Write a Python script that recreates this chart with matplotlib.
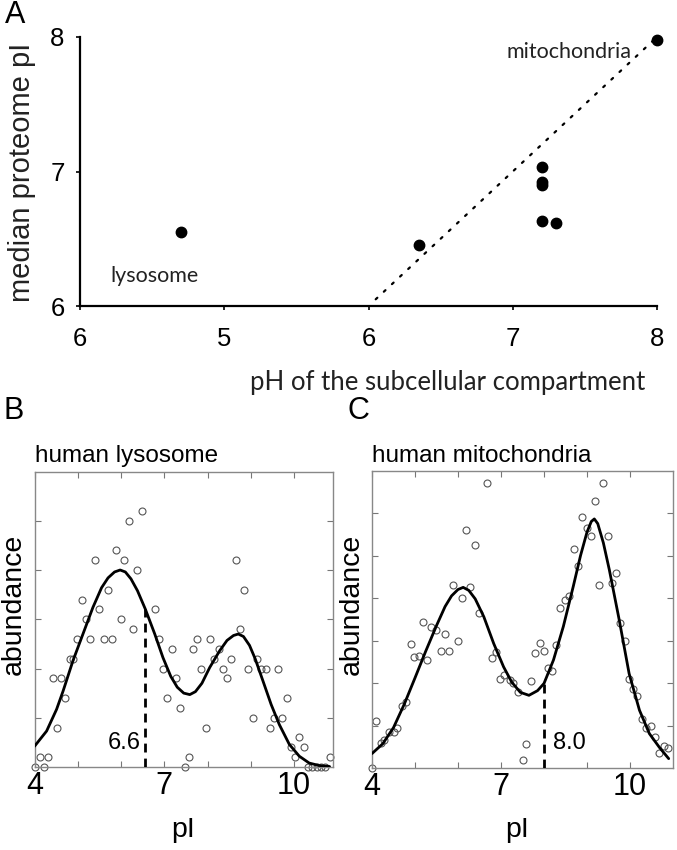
import matplotlib
matplotlib.use("Agg")
import matplotlib.pyplot as plt

W, H = 677, 850

# ---------------- Panel A data ----------------
ph_compartment = [4.7, 6.35, 7.2, 7.2, 7.2, 7.2, 7.3, 8.0]
median_pi = [6.55, 6.45, 7.03, 6.92, 6.90, 6.63, 6.62, 7.98]
fit_x = [6.05, 8.0]
fit_y = [6.05, 8.0]
a_xticks = [4, 5, 6, 7, 8]
a_xticklabels = ["6", "5", "6", "7", "8"]
a_yticks = [6, 7, 8]
a_yticklabels = ["6", "7", "8"]

# ---------------- Panel B data (human lysosome) ----------------
lyso_x = [4.02, 4.21, 4.12, 4.31, 4.42, 4.61, 4.52, 4.70, 4.81, 4.90, 4.99, 5.09, 5.20,
          5.29, 5.39, 5.49, 5.60, 5.69, 5.79, 5.88, 5.99, 6.08, 6.18, 6.28, 6.38, 6.48,
          6.78, 6.88, 6.98, 7.06, 7.18, 7.27, 7.36, 7.47, 7.57, 7.66, 7.75, 7.86, 7.96,
          8.05, 8.15, 8.26, 8.35, 8.44, 8.55, 8.65, 8.75, 8.85, 8.94, 9.05, 9.15, 9.24,
          9.34, 9.45, 9.54, 9.63, 9.73, 9.84, 9.93, 10.02, 10.12, 10.22, 10.33, 10.42,
          10.52, 10.62, 10.71, 10.82]
lyso_y = [0.0, 0.0, 0.2, 0.2, 1.8, 1.8, 0.8, 1.4, 2.2, 2.2, 2.6, 3.4, 3.0,
          2.6, 4.2, 3.2, 2.6, 3.6, 2.6, 4.4, 3.0, 4.2, 5.0, 2.8, 4.0, 5.2,
          3.2, 2.6, 2.0, 1.4, 2.4, 1.8, 1.2, 0.0, 0.2, 2.4, 2.6, 2.0, 0.8,
          2.6, 2.2, 2.4, 2.0, 1.8, 2.2, 4.2, 2.8, 3.6, 2.0, 1.0, 2.2, 2.0,
          2.0, 0.8, 1.0, 2.0, 1.0, 1.4, 0.4, 0.2, 0.6, 0.4, 0.0, 0.0,
          0.0, 0.0, 0.0, 0.2]
lyso_fit_x = [4.0, 4.28, 4.51, 4.66, 4.89, 5.12, 5.35, 5.55, 5.70, 5.85, 5.98, 6.10,
              6.23, 6.38, 6.56, 6.78, 6.97, 7.15, 7.30, 7.45, 7.59, 7.72, 7.87, 8.05,
              8.28, 8.45, 8.60, 8.71, 8.83, 8.97, 9.10, 9.28, 9.47, 9.66, 9.89, 10.12,
              10.35, 10.58, 10.82]
lyso_fit_y = [0.42, 0.73, 1.17, 1.54, 2.16, 2.70, 3.24, 3.64, 3.84, 3.96, 4.00, 3.96,
              3.82, 3.58, 3.21, 2.70, 2.22, 1.84, 1.62, 1.50, 1.47, 1.53, 1.70, 2.02,
              2.36, 2.57, 2.67, 2.70, 2.65, 2.47, 2.20, 1.75, 1.27, 0.86, 0.46, 0.22,
              0.08, 0.03, 0.01]
lyso_median = 6.56
lyso_median_top = 3.21
lyso_label = "6.6"

# ---------------- Panel C data (human mitochondria) ----------------
mito_x = [4.0, 4.1, 4.2, 4.29, 4.4, 4.5, 4.58, 4.69, 4.8, 4.9, 4.98, 5.09, 5.19, 5.29,
          5.38, 5.48, 5.6, 5.7, 5.79, 5.89, 6.0, 6.09, 6.19, 6.28, 6.39, 6.49, 6.68,
          6.79, 6.89, 6.98, 7.08, 7.2, 7.29, 7.39, 7.5, 7.58, 7.69, 7.78, 7.9, 7.99,
          8.09, 8.18, 8.29, 8.38, 8.49, 8.58, 8.69, 8.79, 8.88, 8.99, 9.09, 9.19, 9.28,
          9.38, 9.48, 9.58, 9.68, 9.77, 9.88, 9.98, 10.08, 10.17, 10.27, 10.37, 10.48,
          10.58, 10.68, 10.78, 10.88]
mito_y = [0.0, 1.1, 0.59, 0.65, 0.84, 0.84, 0.95, 1.46, 1.55, 2.91, 2.62, 2.63, 3.44, 2.55,
          3.31, 3.24, 2.75, 3.15, 2.75, 4.3, 3.0, 4.0, 5.6, 4.27, 5.25, 3.65, 6.7,
          2.6, 2.74, 2.1, 2.2, 2.06, 2.01, 1.8, 0.2, 0.56, 2.05, 2.71, 2.95, 2.75,
          2.35, 2.29, 2.9, 3.76, 3.95, 4.05, 5.15, 4.75, 5.9, 5.65, 5.45, 6.29, 4.3,
          6.7, 5.45, 4.36, 4.6, 3.41, 2.99, 2.1, 1.85, 1.69, 1.16, 0.95, 1.0,
          0.73, 0.36, 0.51, 0.46]
mito_fit_x = [4.0, 4.25, 4.5, 4.75, 5.0, 5.25, 5.5, 5.7, 5.85, 6.0, 6.12, 6.25, 6.4,
              6.6, 6.83, 7.06, 7.25, 7.45, 7.65, 7.85, 8.0, 8.22, 8.45, 8.68, 8.85,
              9.0, 9.1, 9.17, 9.25, 9.38, 9.52, 9.75, 9.98, 10.22, 10.45, 10.68, 10.9]
mito_fit_y = [0.34, 0.57, 0.95, 1.50, 2.12, 2.75, 3.35, 3.80, 4.05, 4.20, 4.25, 4.18, 3.98,
              3.56, 2.93, 2.38, 2.02, 1.78, 1.71, 1.82, 1.99, 2.54, 3.33, 4.27, 5.00,
              5.55, 5.80, 5.86, 5.75, 5.30, 4.66, 3.48, 2.22, 1.36, 0.81, 0.49, 0.22]
mito_median = 8.0
mito_median_top = 1.99
mito_label = "8.0"

bc_xticks = [4, 5, 6, 7, 8, 9, 10]
bc_xticklabels = ["4", "", "", "7", "", "", "10"]

# ---------------- Figure ----------------
fig = plt.figure(figsize=(W / 100, H / 100), dpi=100)
SANS = "Liberation Sans"
CAL = "Lato"


def fx(px):
    return px / W


def fy(py):
    return 1 - py / H


# Panel A
axA = fig.add_axes([fx(80), fy(306), (657 - 80) / W, (306 - 37) / H])
axA.plot(fit_x, fit_y, color="black", lw=1.6, linestyle=(0, (1, 4)), dash_capstyle="round")
axA.plot(ph_compartment, median_pi, "o", color="black", ms=7.5, clip_on=False, zorder=3)
axA.set_xlim(4, 8)
axA.set_ylim(6, 8)
axA.set_xticks(a_xticks)
axA.set_xticklabels(a_xticklabels)
axA.set_yticks(a_yticks)
axA.set_yticklabels(a_yticklabels)
for s in ["top", "right"]:
    axA.spines[s].set_visible(False)
for s in ["left", "bottom"]:
    axA.spines[s].set_linewidth(1.6)
axA.tick_params(axis="both", direction="out", length=3, width=1.2, labelsize=18.5)
axA.tick_params(axis="x", pad=12)
axA.tick_params(axis="y", pad=8)
for lab in axA.get_xticklabels() + axA.get_yticklabels():
    lab.set_fontfamily(SANS)
axA.text(7.82, 7.89, "mitochondria", ha="right", va="center", fontsize=15.5,
         family=CAL, color="#222222")
axA.text(4.21, 6.22, "lysosome", ha="left", va="center", fontsize=15.5,
         family=CAL, color="#222222")
fig.text(fx(22), fy(172), "median proteome pI", rotation=90, ha="center", va="center",
         fontsize=21, family=SANS, color="#222222")
fig.text(fx(448), fy(382), "pH of the subcellular compartment", ha="center", va="center",
         fontsize=18.5, family=CAL, color="#222222")
fig.text(fx(15), fy(15), "A", ha="center", va="center", fontsize=22, family=SANS)
fig.text(fx(14), fy(411), "B", ha="center", va="center", fontsize=22, family=SANS)
fig.text(fx(358), fy(411), "C", ha="center", va="center", fontsize=22, family=SANS)


def dist_panel(rect, xs, ys, fxs, fys, med, medtop, label, label_side, label_y,
               xmax, ymax, title, title_x):
    ax = fig.add_axes(rect)
    ax.plot(xs, ys, "o", mfc="none", mec="#555555", ms=5, mew=0.8,
            clip_on=False, zorder=2)
    ax.plot(fxs, fys, color="black", lw=2.0, zorder=3, solid_capstyle="round",
            solid_joinstyle="round")
    ax.plot([med, med], [0, medtop], color="black", lw=2.0, dashes=(3.2, 2.2), zorder=3)
    if label_side == "left":
        ax.text(med - 0.1, label_y, label, ha="right", va="center", fontsize=17, family=SANS)
    else:
        ax.text(med + 0.2, label_y, label, ha="left", va="center", fontsize=17, family=SANS)
    ax.set_xlim(4, xmax)
    ax.set_ylim(0, ymax)
    ax.set_xticks(bc_xticks)
    ax.set_xticklabels(bc_xticklabels)
    ax.set_yticks(range(1, ymax))
    ax.set_yticklabels([])
    ax.tick_params(axis="both", direction="in", length=4, width=0.8, color="#777777",
                   top=True, right=True, labelsize=22, pad=3)
    for lab in ax.get_xticklabels():
        lab.set_fontfamily(SANS)
    for s in ax.spines.values():
        s.set_color("#888888")
        s.set_linewidth(1.0)
    fig.text(title_x, fy(456), title, ha="left", va="center", fontsize=17.5, family=SANS)
    return ax


axB = dist_panel([fx(34.5), fy(767), (333 - 34.5) / W, (767 - 471.5) / H],
                 lyso_x, lyso_y, lyso_fit_x, lyso_fit_y, lyso_median, lyso_median_top,
                 lyso_label, "left", 0.49, 10.9, 6, "human lysosome", fx(35))
axC = dist_panel([fx(372), fy(768), (673 - 372) / W, (768 - 470.5) / H],
                 mito_x, mito_y, mito_fit_x, mito_fit_y, mito_median, mito_median_top,
                 mito_label, "right", 0.59, 11.0, 7, "human mitochondria", fx(372))

fig.text(fx(14), fy(604), "abundance", rotation=90, ha="center", va="center",
         fontsize=20.5, family=SANS)
fig.text(fx(352), fy(604), "abundance", rotation=90, ha="center", va="center",
         fontsize=20.5, family=SANS)
fig.text(fx(183), fy(830), "pI", ha="center", va="center", fontsize=20.5, family=SANS)
fig.text(fx(517), fy(830), "pI", ha="center", va="center", fontsize=20.5, family=SANS)

fig.savefig("out.png", dpi=100)
